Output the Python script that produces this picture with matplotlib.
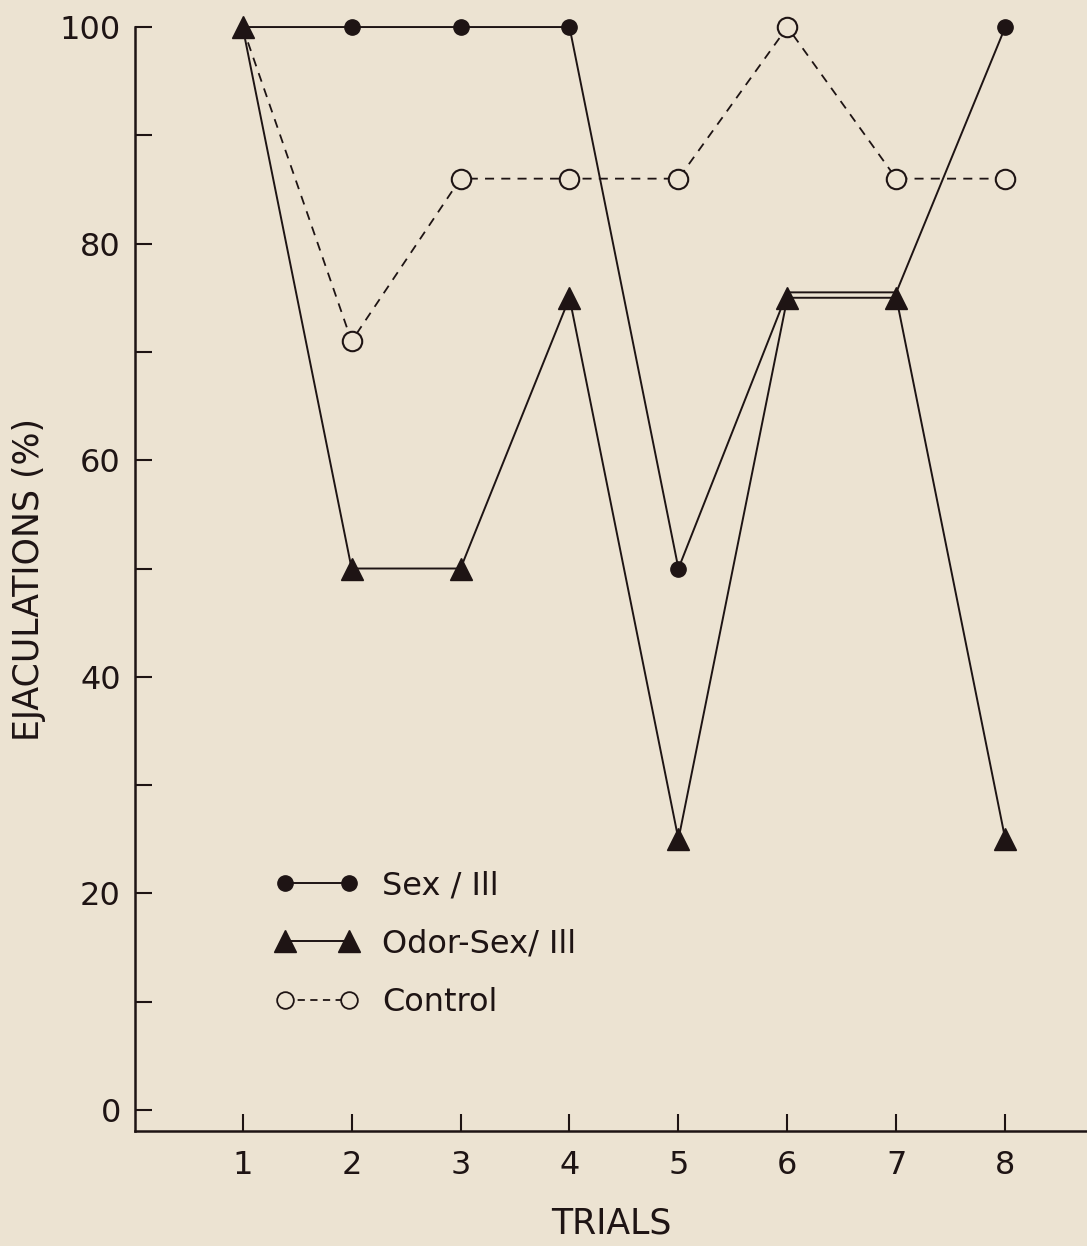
import matplotlib
matplotlib.use("Agg")
import matplotlib.pyplot as plt
from matplotlib.ticker import MultipleLocator
from matplotlib.lines import Line2D

trials = [1, 2, 3, 4, 5, 6, 7, 8]
sex_ill = [100, 100, 100, 100, 50, 75.5, 75.5, 100]
odor_sex_ill = [100, 50, 50, 75, 25, 75, 75, 25]
control = [100, 71, 86, 86, 86, 100, 86, 86]

y_ticks = [0, 20, 40, 60, 80, 100]
y_ticklabels = ["0", "20", "40", "60", "80", "100"]

bg = "#ece3d2"
ink = "#1e1414"
plt.rcParams['font.family'] = ['DejaVu Sans']

fig = plt.figure(figsize=(10.87, 12.46), dpi=100, facecolor=bg)
ax = fig.add_axes([0.124, 0.0923, 0.876, 0.8860])
ax.set_facecolor(bg)

ax.plot(trials, control, linestyle=(0, (5, 4)), color=ink, lw=1.3,
        marker='o', ms=14, mfc=bg, mec=ink, mew=1.5, zorder=2, clip_on=False,
        markevery=[1, 2, 3, 4, 5, 6, 7])
ax.plot(trials, sex_ill, linestyle='-', color=ink, lw=1.4,
        marker='o', ms=11, mfc=ink, mec=ink, zorder=3, clip_on=False,
        markevery=[1, 2, 3, 4, 7])
ax.plot(trials, odor_sex_ill, linestyle='-', color=ink, lw=1.4,
        marker='^', ms=16, mfc=ink, mec=ink, zorder=4, clip_on=False)

ax.set_xlim(0.01, 8.75)
ax.set_ylim(-1.94, 100)
ax.spines['top'].set_visible(False)
ax.spines['right'].set_visible(False)
ax.spines['left'].set_bounds(-1.94, 100)
for s in ['left', 'bottom']:
    ax.spines[s].set_color(ink)
    ax.spines[s].set_linewidth(1.8)

ax.set_xticks(trials)
ax.set_xticklabels([str(t) for t in trials])
ax.set_yticks(y_ticks)
ax.set_yticklabels(y_ticklabels)
ax.yaxis.set_minor_locator(MultipleLocator(10))
ax.tick_params(axis='both', which='both', direction='in', length=12,
               width=1.5, color=ink, labelcolor=ink, labelsize=23)
ax.tick_params(axis='y', which='both', pad=10)
ax.tick_params(axis='x', which='both', pad=14)

ax.set_ylabel("EJACULATIONS (%)", fontsize=25, color=ink, labelpad=10)
ax.set_xlabel("TRIALS", fontsize=25, color=ink, labelpad=18)

handles = [
    Line2D([], [], linestyle='-', color=ink, lw=1.4, marker='o', ms=11, mfc=ink, mec=ink),
    Line2D([], [], linestyle='-', color=ink, lw=1.4, marker='^', ms=16, mfc=ink, mec=ink),
    Line2D([], [], linestyle=(0, (4, 3)), color=ink, lw=1.3, marker='o', ms=12, mfc=bg, mec=ink, mew=1.3),
]
labels = ["Sex / Ill", "Odor-Sex/ Ill", "Control"]
leg = ax.legend(handles, labels, numpoints=2, frameon=False, fontsize=23,
                loc='upper left', bbox_to_anchor=(0.118, 0.262), handlelength=2.6,
                handletextpad=0.72, labelspacing=0.85, labelcolor=ink)

fig.savefig("out.png", dpi=100, facecolor=bg)
